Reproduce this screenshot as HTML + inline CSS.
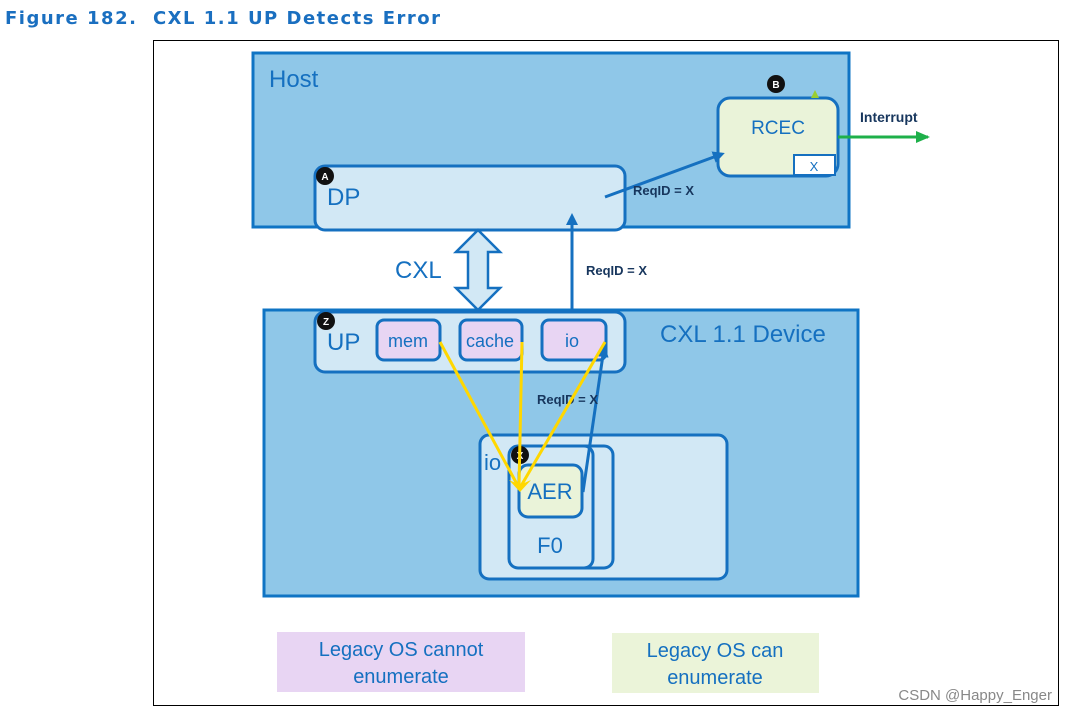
<!DOCTYPE html>
<html><head><meta charset="utf-8"><style>
html,body{margin:0;padding:0;background:#fff;width:1067px;height:714px;overflow:hidden}
svg{display:block;font-family:"Liberation Sans",sans-serif}
</style></head><body>
<svg width="1067" height="714" viewBox="0 0 1067 714">
<defs>
<marker id="bA" markerWidth="12" markerHeight="12" refX="9" refY="6" orient="auto" markerUnits="userSpaceOnUse"><path d="M0,0 L12,6 L0,12 z" fill="#1570c0"/></marker>
<marker id="gA" markerWidth="14" markerHeight="12" refX="12" refY="6" orient="auto" markerUnits="userSpaceOnUse"><path d="M0,0 L14,6 L0,12 z" fill="#1eb04a"/></marker>
</defs>
<text x="5" y="24" font-size="18" font-weight="bold" fill="#1a6fc0" font-family="DejaVu Sans, sans-serif" letter-spacing="1.5" xml:space="preserve">Figure 182.  CXL 1.1 UP Detects Error</text>
<rect x="153.5" y="40.5" width="905" height="665" fill="#fff" stroke="#000" stroke-width="1"/>
<rect x="253" y="53" width="596" height="174" fill="#8fc7e8" stroke="#0f74c4" stroke-width="3"/>
<text x="269" y="87" font-size="24" fill="#1570c0">Host</text>
<rect x="315" y="166" width="310" height="64" rx="10" fill="#d2e8f5" stroke="#1570c0" stroke-width="3"/>
<text x="327" y="205" font-size="24" fill="#1570c0">DP</text>
<circle cx="325" cy="176" r="9" fill="#111"/><text x="325" y="180" font-size="10" font-weight="bold" fill="#fff" text-anchor="middle">A</text>
<rect x="718" y="98" width="120" height="78" rx="12" fill="#eaf3d9" stroke="#1570c0" stroke-width="3"/>
<text x="778" y="134" font-size="19" fill="#1570c0" text-anchor="middle">RCEC</text>
<rect x="794" y="155" width="41" height="20" fill="#fff" stroke="#1570c0" stroke-width="2"/>
<text x="814" y="171" font-size="13" fill="#1570c0" text-anchor="middle">X</text>
<circle cx="776" cy="84" r="9" fill="#111"/><text x="776" y="88" font-size="10" font-weight="bold" fill="#fff" text-anchor="middle">B</text>
<path d="M811,98 L815,90 L819,98 z" fill="#9acd32"/>
<line x1="838" y1="137" x2="928" y2="137" stroke="#1eb04a" stroke-width="3" marker-end="url(#gA)"/>
<text x="860" y="122" font-size="14" font-weight="bold" fill="#17365d">Interrupt</text>
<line x1="605" y1="197" x2="722" y2="154" stroke="#1570c0" stroke-width="3" marker-end="url(#bA)"/>
<text x="633" y="195" font-size="13" font-weight="bold" fill="#17365d">ReqID =  X</text>
<rect x="264" y="310" width="594" height="286" fill="#8fc7e8" stroke="#0f74c4" stroke-width="3"/>
<text x="660" y="342" font-size="24" fill="#1570c0">CXL 1.1 Device</text>
<path d="M478,230 L500,252 L488,252 L488,288 L500,288 L478,310 L456,288 L468,288 L468,252 L456,252 z" fill="#d2e8f5" stroke="#1570c0" stroke-width="2.5"/>
<text x="395" y="278" font-size="24" fill="#1570c0">CXL</text>
<line x1="572" y1="318" x2="572" y2="216" stroke="#1570c0" stroke-width="3" marker-end="url(#bA)"/>
<text x="586" y="275" font-size="13" font-weight="bold" fill="#17365d">ReqID = X</text>
<rect x="315" y="312" width="310" height="60" rx="10" fill="#d2e8f5" stroke="#1570c0" stroke-width="3"/>
<text x="327" y="350" font-size="24" fill="#1570c0">UP</text>
<circle cx="326" cy="321" r="9" fill="#111"/><text x="326" y="325" font-size="10" font-weight="bold" fill="#fff" text-anchor="middle">Z</text>
<rect x="377" y="320" width="63" height="40" rx="7" fill="#e8d5f3" stroke="#1570c0" stroke-width="3"/>
<text x="408" y="347" font-size="18" fill="#1570c0" text-anchor="middle">mem</text>
<rect x="460" y="320" width="62" height="40" rx="7" fill="#e8d5f3" stroke="#1570c0" stroke-width="3"/>
<text x="490" y="347" font-size="18" fill="#1570c0" text-anchor="middle">cache</text>
<rect x="542" y="320" width="64" height="40" rx="7" fill="#e8d5f3" stroke="#1570c0" stroke-width="3"/>
<text x="572" y="347" font-size="18" fill="#1570c0" text-anchor="middle">io</text>
<rect x="480" y="435" width="247" height="144" rx="9" fill="#d2e8f5" stroke="#1570c0" stroke-width="3"/>
<text x="484" y="470" font-size="22" fill="#1570c0">io</text>
<rect x="528" y="446" width="85" height="122" rx="9" fill="#d2e8f5" stroke="#1570c0" stroke-width="3"/>
<rect x="509" y="446" width="84" height="122" rx="9" fill="#d2e8f5" stroke="#1570c0" stroke-width="3"/>
<rect x="519" y="465" width="63" height="52" rx="9" fill="#eaf3d9" stroke="#1570c0" stroke-width="3"/>
<text x="550" y="499" font-size="22" fill="#1570c0" text-anchor="middle">AER</text>
<text x="550" y="553" font-size="22" fill="#1570c0" text-anchor="middle">F0</text>
<circle cx="520" cy="455" r="9" fill="#111"/><text x="520" y="459" font-size="10" font-weight="bold" fill="#fff" text-anchor="middle">X</text>
<line x1="583" y1="492" x2="604" y2="348" stroke="#1570c0" stroke-width="3" marker-end="url(#bA)"/>
<text x="537" y="404" font-size="13" font-weight="bold" fill="#17365d">ReqID = X</text>
<g stroke="#ffd700" stroke-width="3" fill="none">
<line x1="440" y1="342" x2="518" y2="486"/>
<line x1="522" y1="342" x2="519" y2="486"/>
<line x1="605" y1="342" x2="521" y2="486"/>
</g>
<path d="M509,480 L520,492 L531,480 L520,485 z" fill="#ffd700"/>
<rect x="277" y="632" width="248" height="60" fill="#e8d5f3"/>
<text x="401" y="656" font-size="20" fill="#1570c0" text-anchor="middle">Legacy OS cannot</text>
<text x="401" y="683" font-size="20" fill="#1570c0" text-anchor="middle">enumerate</text>
<rect x="612" y="633" width="207" height="60" fill="#ebf4d9"/>
<text x="715" y="657" font-size="20" fill="#1570c0" text-anchor="middle">Legacy OS can</text>
<text x="715" y="684" font-size="20" fill="#1570c0" text-anchor="middle">enumerate</text>
<text x="1052" y="700" font-size="15" fill="#888" text-anchor="end">CSDN @Happy_Enger</text>
</svg>
</body></html>
